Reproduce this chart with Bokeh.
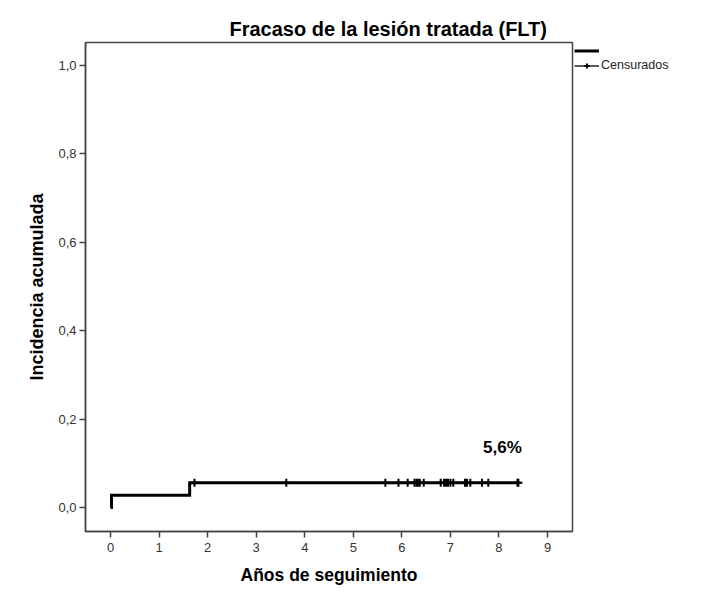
from bokeh.plotting import figure
from bokeh.models import Range1d, FixedTicker, Legend, LegendItem, Label
from bokeh.embed import file_html
from bokeh.resources import INLINE
import numpy as np

# ---- data ----
event_times = [0.0, 0.02, 1.63, 8.40]
cum_incidence = [0.0, 0.028, 0.056, 0.056]
censor_times = [1.73, 3.62, 5.66, 5.93, 6.12, 6.26, 6.30, 6.33, 6.37, 6.45,
                6.80, 6.87, 6.91, 6.95, 7.00, 7.06, 7.30, 7.34, 7.41, 7.65,
                7.78, 8.38, 8.40]
x_ticks = [0, 1, 2, 3, 4, 5, 6, 7, 8, 9]
x_tick_labels = ["0", "1", "2", "3", "4", "5", "6", "7", "8", "9"]
y_ticks = [0.0, 0.2, 0.4, 0.6, 0.8, 1.0]
y_tick_labels = ["0,0", "0,2", "0,4", "0,6", "0,8", "1,0"]
final_label = "5,6%"
title_text = "Fracaso de la lesión tratada (FLT)"
x_title = "Años de seguimiento"
y_title = "Incidencia acumulada"
legend_censor = "Censurados"

# censored marks sit on the curve level at their time
idx = np.searchsorted(event_times, censor_times, side="right") - 1
censor_y = list(np.array(cum_incidence)[idx])

FONT = "Liberation Sans"
AX = "#444444"

p = figure(frame_width=487, frame_height=489,
           x_range=Range1d(-0.515, 9.514), y_range=Range1d(-0.054, 1.052),
           output_backend="svg", toolbar_location=None,
           min_border_left=85, min_border_top=42, min_border_right=5, min_border_bottom=5,
           background_fill_color="white", border_fill_color="white")

p.title.text = title_text
p.title.align = "left"
p.title.offset = 144
p.title.standoff = 5
p.title.text_font = FONT
p.title.text_font_size = "20px"
p.title.text_font_style = "bold"
p.title.text_color = "black"

p.grid.visible = False
p.outline_line_color = AX
p.outline_line_width = 1.5

for ax in (p.xaxis[0], p.yaxis[0]):
    ax.axis_line_color = AX
    ax.axis_line_width = 1.5
    ax.major_tick_line_color = AX
    ax.major_tick_line_width = 1.5
    ax.major_tick_in = 0
    ax.major_tick_out = 6
    ax.minor_tick_line_color = None
    ax.major_label_text_font = FONT
    ax.major_label_text_font_size = "13px"
    ax.major_label_text_color = "#333333"
    ax.axis_label_text_font = FONT
    ax.axis_label_text_font_style = "bold"
    ax.axis_label_text_color = "black"

p.xaxis.ticker = FixedTicker(ticks=x_ticks)
p.xaxis.major_label_overrides = dict(zip(x_ticks, x_tick_labels))
p.xaxis.axis_label = x_title
p.xaxis.axis_label_text_font_size = "17.5px"
p.xaxis.major_label_standoff = 5
p.xaxis.axis_label_standoff = 10

p.yaxis.ticker = FixedTicker(ticks=y_ticks)
p.yaxis.major_label_overrides = dict(zip(y_ticks, y_tick_labels))
p.yaxis.axis_label = y_title
p.yaxis.axis_label_text_font_size = "18px"
p.yaxis.major_label_standoff = 3
p.yaxis.axis_label_standoff = 8

step_r = p.step(event_times, cum_incidence, mode="after", line_width=3,
                 line_color="black", line_join="miter")
cens_line = p.line(censor_times, censor_y, line_color="black", line_width=1.3)
cens_r = p.scatter(censor_times, censor_y, marker="cross", size=8,
                   line_width=2, line_color="black")

p.add_layout(Label(x=8.07, y=0.135, text=final_label, text_align="center",
                   text_baseline="middle", text_font=FONT, text_font_size="17px",
                   text_font_style="bold", text_color="black"))

legend = Legend(items=[LegendItem(label="", renderers=[step_r]),
                       LegendItem(label=legend_censor, renderers=[cens_line, cens_r])],
                location="top_left", margin=2, padding=0, spacing=1,
                glyph_width=25, glyph_height=13, label_standoff=2,
                label_text_font=FONT, label_text_font_size="12.5px",
                label_text_color="#222222", border_line_alpha=0,
                background_fill_alpha=0)
p.add_layout(legend, "right")

open("out.html", "w").write(file_html(p, INLINE))
